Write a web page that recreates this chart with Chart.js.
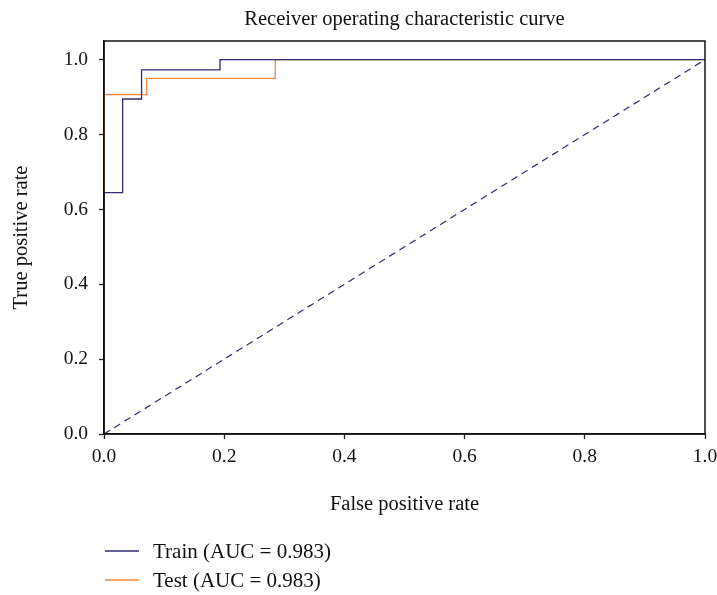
<!DOCTYPE html>
<html>
<head>
<meta charset="utf-8">
<title>ROC curve</title>
<script src="https://cdn.jsdelivr.net/npm/chart.js@4.4.1/dist/chart.umd.min.js"></script>
<style>
  html, body { margin: 0; padding: 0; background: #fff; }
  #wrap { width: 717px; height: 595px; }
</style>
</head>
<body>
<div id="wrap"><canvas id="roc"></canvas></div>
<script>
"use strict";

/*--------------------------------------
    data
--------------------------------------*/

var trainFpr = [0, 0, 0.031, 0.031, 0.0625, 0.0625, 0.193, 0.193, 1];
var trainTpr = [0, 0.645, 0.645, 0.895, 0.895, 0.973, 0.973, 1, 1];

var testFpr = [0, 0, 0.071, 0.071, 0.285, 0.285, 1];
var testTpr = [0, 0.907, 0.907, 0.95, 0.95, 1, 1];

var chanceX = [0, 1];
var chanceY = [0, 1];

var xTicks = [0, 0.2, 0.4, 0.6, 0.8, 1.0];
var yTicks = [0, 0.2, 0.4, 0.6, 0.8, 1.0];

var seriesLabels = ["Train (AUC = 0.983)", "Test (AUC = 0.983)"];
var chartTitle = 'Receiver operating characteristic curve';

var NAVY = '#2e2b70';
var ORANGE = '#f08a45';
var SERIF = '"Liberation Serif", "DejaVu Serif", serif';

function toPoints(xs, ys) {
  return xs.map(function (x, i) { return { x: x, y: ys[i] }; });
}

/*--------------------------------------
    plugins: frame, title, legend
--------------------------------------*/

var framePlugin = {
  id: 'frame',
  afterDatasetsDraw: function (chart) {
    var a = chart.chartArea, ctx = chart.ctx;
    ctx.save();
    ctx.strokeStyle = '#111';
    ctx.lineWidth = 1.5;
    ctx.strokeRect(a.left, a.top, a.right - a.left, a.bottom - a.top);
    ctx.restore();
  }
};

// title centred over the plot area, not the whole canvas
var titlePlugin = {
  id: 'areaTitle',
  afterDraw: function (chart) {
    var a = chart.chartArea, ctx = chart.ctx;
    ctx.save();
    ctx.font = '20.5px ' + SERIF;
    ctx.fillStyle = '#111';
    ctx.textAlign = 'center';
    ctx.textBaseline = 'middle';
    ctx.fillText(chartTitle, (a.left + a.right) / 2, 20);
    ctx.restore();
  }
};

var legendPlugin = {
  id: 'stackLegend',
  afterDraw: function (chart) {
    var ctx = chart.ctx;
    var y0 = 551, gap = 29;
    ctx.save();
    ctx.font = '21px ' + SERIF;
    ctx.textBaseline = 'middle';
    chart.data.datasets.forEach(function (ds) {
      if (!ds.label) return;
      ctx.strokeStyle = ds.borderColor;
      ctx.lineWidth = 1.3;
      ctx.beginPath();
      ctx.moveTo(105, y0);
      ctx.lineTo(139, y0);
      ctx.stroke();
      ctx.fillStyle = '#111';
      ctx.fillText(ds.label, 153, y0 + 1);
      y0 += gap;
    });
    ctx.restore();
  }
};

/*--------------------------------------
    chart
--------------------------------------*/

new Chart(document.getElementById('roc').getContext('2d'), {
  type: 'line',
  data: {
    datasets: [{
      label: seriesLabels[0],
      data: toPoints(trainFpr, trainTpr),
      borderColor: NAVY,
      borderWidth: 1.3,
      pointRadius: 0,
      tension: 0
    }, {
      label: seriesLabels[1],
      data: toPoints(testFpr, testTpr),
      borderColor: ORANGE,
      borderWidth: 1.3,
      pointRadius: 0,
      tension: 0
    }, {
      label: '',
      data: toPoints(chanceX, chanceY),
      borderColor: NAVY,
      borderWidth: 1.2,
      borderDash: [7, 5],
      pointRadius: 0
    }]
  },
  options: {
    responsive: true,
    maintainAspectRatio: false,
    animation: false,
    layout: { padding: { left: 0, right: 0, top: 41, bottom: 0 } },
    plugins: {
      legend: { display: false },
      tooltip: { enabled: false },
      title: { display: false }
    },
    scales: {
      x: {
        type: 'linear',
        min: 0,
        max: 1,
        afterBuildTicks: function (s) { s.ticks = xTicks.map(function (v) { return { value: v }; }); },
        afterFit: function (s) {
          s.height = 161;
          s.paddingLeft = 0;
          s.paddingRight = 12;
        },
        grid: { drawOnChartArea: false, drawTicks: true, tickLength: 5, tickColor: '#222', tickWidth: 1.3 },
        border: { display: true, color: '#111', width: 1.5 },
        ticks: {
          color: '#111',
          padding: 6,
          maxRotation: 0,
          font: { family: SERIF, size: 19.5 },
          callback: function (v) { return v.toFixed(1); }
        },
        title: {
          display: true,
          text: 'False positive rate',
          color: '#111',
          font: { family: SERIF, size: 20.5 },
          padding: { top: 0, bottom: 78 }
        }
      },
      y: {
        type: 'linear',
        min: 0,
        max: 1.05,
        afterBuildTicks: function (s) { s.ticks = yTicks.map(function (v) { return { value: v }; }); },
        afterFit: function (s) { s.width = 104; },
        grid: { drawOnChartArea: false, drawTicks: true, tickLength: 5, tickColor: '#222', tickWidth: 1.3 },
        border: { display: true, color: '#111', width: 1.5 },
        ticks: {
          color: '#111',
          padding: 11,
          font: { family: SERIF, size: 19.5 },
          callback: function (v) { return v.toFixed(1); }
        },
        title: {
          display: true,
          text: 'True positive rate',
          color: '#111',
          font: { family: SERIF, size: 20.5 },
          padding: { top: 9, bottom: 0 }
        }
      }
    }
  },
  plugins: [framePlugin, titlePlugin, legendPlugin]
});
</script>
</body>
</html>
